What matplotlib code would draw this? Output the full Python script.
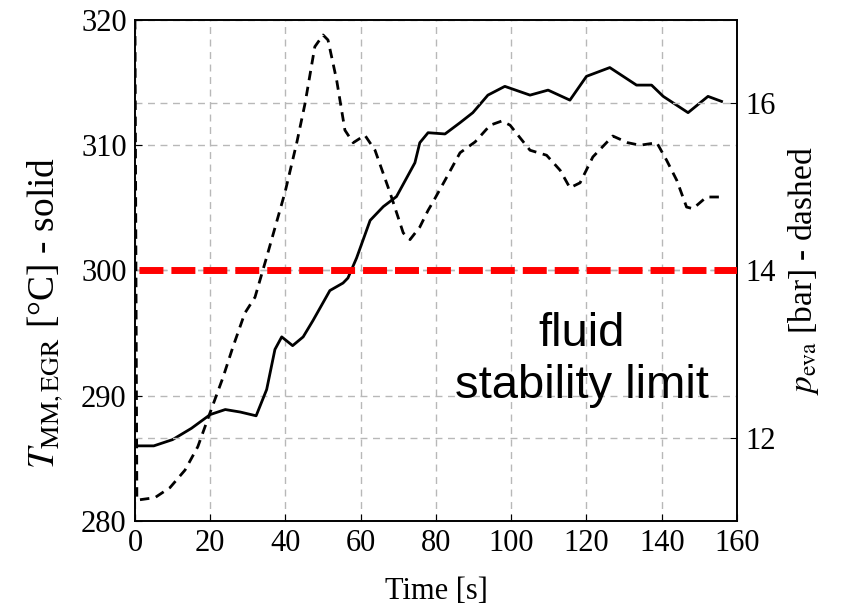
import matplotlib
matplotlib.use("Agg")
import matplotlib.pyplot as plt

# Solid series: temperature T_MM,EGR [°C]
t_temp = [0, 5, 10, 15, 20, 24, 28, 32.2, 35, 37.2, 39, 41.9, 44.7, 47.3, 51.8, 55.3, 56.6,
          58.9, 62.5, 66, 69.5, 74.4, 75.7, 77.9, 82.4, 86.4, 89.8, 93.8, 98.3, 105, 109.8,
          115.6, 120, 126.2, 133.3, 137.3, 140.4, 147, 152.3, 155.9]
temp = [286.0, 286.0, 286.5, 287.4, 288.5, 288.9, 288.7, 288.4, 290.5, 293.7, 294.7, 294.0,
        294.7, 296.0, 298.4, 299.0, 299.4, 301.0, 304.0, 305.1, 305.9, 308.6, 310.2, 311.0,
        310.9, 311.8, 312.6, 314.0, 314.7, 314.0, 314.4, 313.6, 315.5, 316.2, 314.8, 314.8,
        313.9, 312.6, 313.9, 313.5]

# Dashed series: pressure p_eva [bar]
t_pres = [0, 0.5, 5.3, 9.3, 13.3, 16.7, 19.9, 23.4, 26, 29.2, 31.9, 35, 39.9, 43, 45.2, 47.8,
          50, 51.3, 53.6, 55.8, 58, 61.1, 63.8, 67.8, 71.3, 73.1, 75.7, 77.9, 79.2, 82.4, 86.4,
          90.4, 94.4, 97.5, 99.7, 101.8, 105, 109.4, 113, 115.6, 118.3, 121.7, 127, 131, 134.2,
          138.7, 141.3, 144, 146.6, 148.3, 151.9, 155.9]
pres = [17.0, 11.25, 11.28, 11.40, 11.61, 11.89, 12.29, 12.72, 13.08, 13.49, 13.68, 14.16,
        14.94, 15.53, 16.0, 16.68, 16.82, 16.76, 16.28, 15.68, 15.53, 15.62, 15.44, 14.93,
        14.45, 14.37, 14.52, 14.72, 14.82, 15.08, 15.41, 15.54, 15.74, 15.79, 15.74, 15.62,
        15.44, 15.38, 15.20, 14.99, 15.05, 15.36, 15.61, 15.53, 15.50, 15.53, 15.32, 15.08,
        14.76, 14.74, 14.88, 14.88]

limit_temp = 300
x_ticks = [0, 20, 40, 60, 80, 100, 120, 140, 160]
left_ticks = [280, 290, 300, 310, 320]
right_ticks = [12, 14, 16]

plt.rcParams['font.family'] = ['Liberation Serif', 'DejaVu Serif']
plt.rcParams['mathtext.fontset'] = 'stix'

fig = plt.figure(figsize=(8.41, 6.05), dpi=100)
ax = fig.add_axes([0.1605, 0.1388, 0.7158, 0.8282])
ax2 = ax.twinx()

grid_kw = dict(color='#b8b8b8', linestyle=(0, (5, 4)), linewidth=1.0)
ax.set_xlim(0, 160)
ax.set_ylim(280, 320)
ax2.set_ylim(11, 17)
ax.set_xticks(x_ticks)
ax.set_yticks(left_ticks)
ax2.set_yticks(right_ticks)
ax.grid(True, **grid_kw)
ax2.grid(True, axis='y', **grid_kw)
ax.set_axisbelow(True)
ax2.set_axisbelow(True)

ax.plot(t_temp, temp, color='black', linewidth=2.0, zorder=3)
ax2.plot(t_pres, pres, color='black', linewidth=2.0, linestyle=(0, (3.4, 2.4)), zorder=3)
# red limit line drawn in the top axes (so no grid covers it), in temperature coordinates
ax2.plot([0, 160], [limit_temp, limit_temp], transform=ax.transData, color='red',
         linewidth=5.0, linestyle=(4.03, (3.45, 1.15)), zorder=4)

for a in (ax, ax2):
    a.tick_params(direction='in', labelsize=22, length=5, width=0.8, pad=6)
    for s in a.spines.values():
        s.set_linewidth(1.2)

ax.set_xlabel('Time [s]', fontsize=22)
ax.xaxis.set_label_coords(0.5, -0.112)
ax.set_ylabel(r'$T_{\mathrm{MM,EGR}}$ [°C] - solid', fontsize=27)
ax.yaxis.set_label_coords(-0.117, 0.415)
ax2.set_ylabel(r'$p_{\mathrm{eva}}$ [bar] - dashed', fontsize=24, labelpad=7)

ax2.text(0.742, 0.321, 'fluid\nstability limit', transform=ax.transAxes,
         ha='center', va='center', fontsize=34, family=['Liberation Sans'],
         linespacing=1.25, zorder=5)

fig.savefig('out.png', dpi=100)
